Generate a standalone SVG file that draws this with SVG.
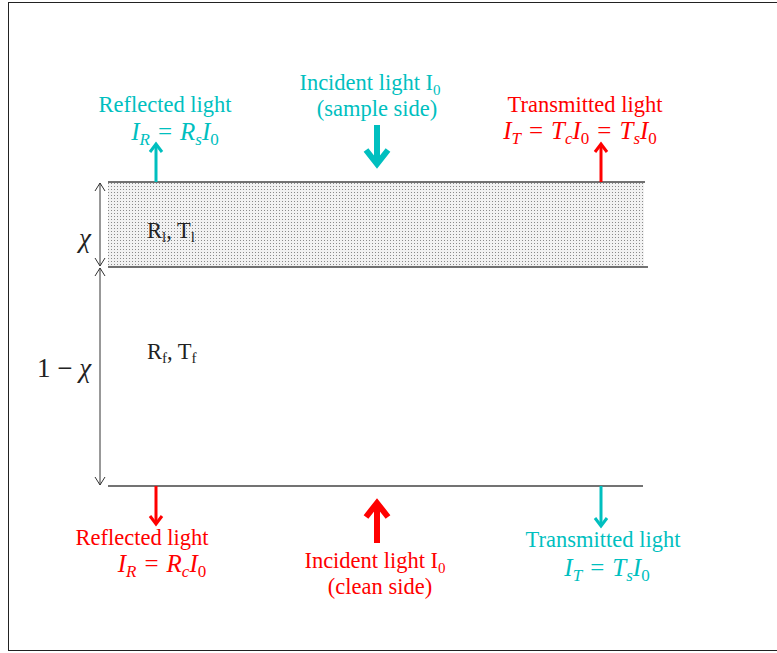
<svg xmlns="http://www.w3.org/2000/svg" width="777" height="653" viewBox="0 0 777 653">
<defs>
<pattern id="dots" width="3" height="3" patternUnits="userSpaceOnUse">
<rect width="3" height="3" fill="#f2f2f2"/>
<rect x="0" y="0" width="1" height="1" fill="#8a8a8a"/>
</pattern>
</defs>
<style>
.t{font-family:"Liberation Serif","DejaVu Serif",serif;font-size:22.5px;}
.m{font-family:"Liberation Serif","DejaVu Serif",serif;font-size:25px;font-style:italic;}
.s{font-size:17px;}
.n{font-style:normal;}
.teal{fill:#00BFBF;}
.red{fill:#FF0000;}
.blk{fill:#222;}
.line{stroke:#444;stroke-width:1.3;fill:none;}
.dim{stroke:#333;stroke-width:1;fill:none;}
.arT{stroke:#00BFBF;stroke-width:3;fill:none;}
.arR{stroke:#FF0000;stroke-width:3;fill:none;}
</style>
<rect x="8.5" y="2.5" width="780" height="648" fill="#fff" stroke="#222" stroke-width="1"/>

<g id="layer-top">
<rect x="108" y="182" width="536" height="85" fill="url(#dots)"/>
<line class="line" x1="108" y1="182" x2="645" y2="182"/>
<line class="line" x1="108" y1="267" x2="648" y2="267"/>
<text class="t blk" x="147" y="238" font-size="23.5">R<tspan font-size="15" dy="4">l</tspan><tspan dy="-4">, T</tspan><tspan font-size="15" dy="4">l</tspan></text>
</g>

<g id="layer-bottom">
<line class="line" x1="108" y1="486" x2="643" y2="486"/>
<text class="t blk" x="147" y="359" font-size="23.5">R<tspan font-size="15" dy="4">f</tspan><tspan dy="-4">, T</tspan><tspan font-size="15" dy="4">f</tspan></text>
</g>

<g id="dimensions">
<line class="dim" x1="100" y1="183" x2="100" y2="266"/>
<path class="dim" d="M95,191 L100,183 L105,191"/>
<path class="dim" d="M95,258 L100,266 L105,258"/>
<line class="dim" x1="100" y1="268" x2="100" y2="485"/>
<path class="dim" d="M95,276 L100,268 L105,276"/>
<path class="dim" d="M95,477 L100,485 L105,477"/>
<text class="blk" x="79" y="247" font-family="Liberation Serif, DejaVu Serif, serif" font-size="27" font-style="italic">χ</text>
<text class="blk" x="37" y="377" font-family="Liberation Serif, DejaVu Serif, serif" font-size="27">1 − <tspan font-style="italic">χ</tspan></text>
</g>

<g id="connectors">
<line class="arT" x1="156" y1="182" x2="156" y2="146"/>
<path d="M150,152 L156,144 L162,152" class="arT"/>
<line class="arR" x1="601" y1="182" x2="601" y2="146"/>
<path d="M595,152 L601,144 L607,152" class="arR"/>
<line x1="377" y1="125" x2="377" y2="160" stroke="#00BFBF" stroke-width="6"/>
<path d="M366,150 L377,164 L388,150" fill="none" stroke="#00BFBF" stroke-width="6"/>
<line class="arR" x1="156" y1="486" x2="156" y2="522"/>
<path d="M150,516 L156,524 L162,516" class="arR"/>
<line class="arT" x1="601" y1="486" x2="601" y2="524"/>
<path d="M595,518 L601,526 L607,518" class="arT"/>
<line x1="377" y1="543" x2="377" y2="508" stroke="#FF0000" stroke-width="6"/>
<path d="M366,517 L377,503 L388,517" fill="none" stroke="#FF0000" stroke-width="6"/>
</g>

<g id="reflected-sample">
<text class="t teal" x="165" y="112" text-anchor="middle">Reflected light</text>
<text class="m teal" x="175" y="140" text-anchor="middle">I<tspan class="s" dy="5">R</tspan><tspan class="n" dy="-5" dx="8">=</tspan><tspan dx="8">R</tspan><tspan class="s" dy="5">s</tspan><tspan dy="-5">I</tspan><tspan class="n s" dy="5">0</tspan></text>
</g>

<g id="incident-sample">
<text class="t teal" x="370" y="90" text-anchor="middle">Incident light I<tspan font-size="15" dy="5">0</tspan></text>
<text class="t teal" x="377" y="116" text-anchor="middle">(sample side)</text>
</g>

<g id="transmitted-sample">
<text class="t red" x="585" y="112" text-anchor="middle">Transmitted light</text>
<text class="m red" x="580" y="139" text-anchor="middle">I<tspan class="s" dy="5">T</tspan><tspan class="n" dy="-5" dx="8">=</tspan><tspan dx="8">T</tspan><tspan class="s" dy="5">c</tspan><tspan dy="-5">I</tspan><tspan class="n s" dy="5">0</tspan><tspan class="n" dy="-5" dx="8">=</tspan><tspan dx="8">T</tspan><tspan class="s" dy="5">s</tspan><tspan dy="-5">I</tspan><tspan class="n s" dy="5">0</tspan></text>
</g>

<g id="reflected-clean">
<text class="t red" x="142" y="545" text-anchor="middle">Reflected light</text>
<text class="m red" x="162" y="572" text-anchor="middle">I<tspan class="s" dy="5">R</tspan><tspan class="n" dy="-5" dx="8">=</tspan><tspan dx="8">R</tspan><tspan class="s" dy="5">c</tspan><tspan dy="-5">I</tspan><tspan class="n s" dy="5">0</tspan></text>
</g>

<g id="incident-clean">
<text class="t red" x="375" y="568" text-anchor="middle">Incident light I<tspan font-size="15" dy="5">0</tspan></text>
<text class="t red" x="380" y="594" text-anchor="middle">(clean side)</text>
</g>

<g id="transmitted-clean">
<text class="t teal" x="603" y="547" text-anchor="middle">Transmitted light</text>
<text class="m teal" x="607" y="576" text-anchor="middle">I<tspan class="s" dy="5">T</tspan><tspan class="n" dy="-5" dx="8">=</tspan><tspan dx="8">T</tspan><tspan class="s" dy="5">s</tspan><tspan dy="-5">I</tspan><tspan class="n s" dy="5">0</tspan></text>
</g>
</svg>
